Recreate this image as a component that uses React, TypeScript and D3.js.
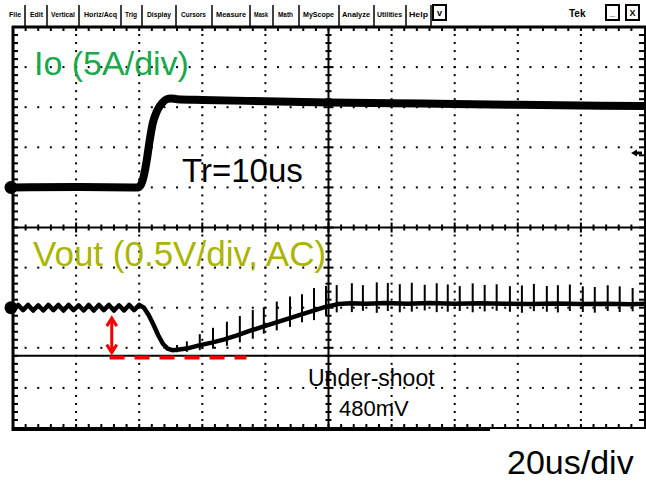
import React, { useEffect, useRef } from "react";
import * as d3 from "d3";

// Io trace: time (us) and current (A), 5 A/div
const ioTime = [0, 20, 39.5, 40.5, 41.5, 42.4, 43.3, 44.3, 45.4, 46.6, 47.7, 48.8, 50, 52, 60, 80, 100, 130, 160, 200];
const ioAmps = [0, 0.05, 0, 0.3, 1.5, 3.4, 5.8, 8.0, 9.3, 10.2, 10.7, 11.0, 11.1, 11.0, 10.9, 10.75, 10.6, 10.45, 10.3, 10.15];

// Vout trace: time (us) and AC voltage (mV), 0.5 V/div
const voutTime = [
  0, 1.6, 3.2, 4.8, 6.4, 8, 9.6, 11.2, 12.8, 14.4, 16, 17.6, 19.2, 20.8, 22.4, 24, 25.6, 27.2, 28.8, 30.4, 32, 33.6, 35.2,
  36.8, 38.4, 40, 41.5, 43, 44.5, 46, 47.5, 49, 50.5, 52, 55, 59, 63, 67, 71, 75, 79, 83, 87, 91, 95, 99, 103, 107, 112,
  118, 125, 132, 140, 148, 156, 164, 172, 180, 188, 196, 200,
];
const voutMv = [
  -35, 35, -30, 35, -35, 30, -35, 35, -30, 35, -35, 35, -30, 30, -35, 35, -35, 35, -30, 35, -35, 30, -35, 35, -30, 35, 0,
  -90, -210, -340, -450, -510, -530, -525, -510, -470, -435, -395, -345, -290, -240, -190, -140, -90, -40, 10, 45, 55,
  50, 60, 50, 58, 48, 55, 50, 45, 52, 46, 50, 44, 48,
];

// switching spikes on Vout
const spikeTime = [
  52.0, 55.1, 59.2, 63.4, 67.8, 71.9, 76.0, 79.5, 83.6, 87.8, 91.6, 95.4, 99.2, 102.6, 107.4, 110.9, 115.3, 118.8, 122.6,
  126.4, 130.5, 134.3, 137.8, 141.6, 145.7, 149.5, 153.3, 157.5, 161.3, 165.1, 169.2, 172.7, 176.5, 180.6, 184.4, 188.5,
  192.3, 196.4,
];
const spikeBase = [
  -525, -510, -470, -431, -385, -333, -277, -234, -183, -130, -82, -35, 12, 42, 55, 51, 56, 59, 53, 51, 56, 55, 50, 49, 53,
  54, 52, 49, 47, 47, 50, 51, 49, 46, 48, 50, 46, 45,
];
const spikeUp = [
  60, 90, 140, 180, 210, 230, 250, 240, 260, 270, 250, 280, 260, 240, 250, 230, 260, 250, 240, 260, 230, 250, 240, 220,
  250, 230, 240, 220, 230, 250, 220, 230, 240, 220, 210, 230, 220, 200,
];
const spikeDown = [
  30, 40, 60, 80, 90, 100, 110, 90, 100, 110, 100, 120, 110, 100, 110, 90, 120, 100, 110, 100, 90, 110, 100, 90, 110, 100,
  90, 100, 110, 90, 100, 110, 90, 100, 110, 90, 100, 90,
];

const triggerAmps = 4.3;
const cursorMv = -600;
const undershootMv = [-130, -560];
const dashMv = -620;
const dashTime = [30.6, 74];

const menuLabels = ["File", "Edit", "Vertical", "Horiz/Acq", "Trig", "Display", "Cursors", "Measure", "Mask", "Math", "MyScope", "Analyze", "Utilities", "Help"];

const W = 646;
const H = 483;
const plot = { left: 13, right: 644, top: 27, bottom: 428 };
const font = "'Liberation Sans', Arial, sans-serif";

const App: React.FC = () => {
  const svgRef = useRef<SVGSVGElement>(null);

  useEffect(() => {
    const svg = d3.select(svgRef.current);
    svg.selectAll("*").remove();

    const x = d3.scaleLinear().domain([0, 200]).range([plot.left, plot.right]);
    const xDiv = d3.scaleLinear().domain([0, 10]).range([plot.left, plot.right]);
    const yDiv = d3.scaleLinear().domain([0, 10]).range([plot.top, plot.bottom]);
    const yIo = d3.scaleLinear().domain([20, -30]).range([plot.top, plot.bottom]);
    const yVout = d3.scaleLinear().domain([3500, -1500]).range([plot.top, plot.bottom]);

    svg.append("rect").attr("width", W).attr("height", H).attr("fill", "#fff");

    // menu bar
    const menuX = [[9, 21], [30, 43], [51, 75], [84, 117], [125, 137], [147, 171], [181, 206], [216, 246], [254, 268], [278, 293], [303, 334], [342, 370], [377, 402], [409, 428]];
    const seps = [25, 47, 79, 121, 142, 176, 212, 250, 273, 299, 339, 374, 406, 431];
    const menu = svg.append("g");
    menu
      .selectAll("text")
      .data(menuLabels)
      .join("text")
      .attr("x", (_, i) => menuX[i][0])
      .attr("y", 17)
      .attr("textLength", (_, i) => menuX[i][1] - menuX[i][0])
      .attr("lengthAdjust", "spacingAndGlyphs")
      .attr("font-family", font)
      .attr("font-size", 8)
      .attr("font-weight", "bold")
      .attr("fill", "#000")
      .text((d) => d);
    menu
      .selectAll("line")
      .data(seps)
      .join("line")
      .attr("x1", (d) => d)
      .attr("x2", (d) => d)
      .attr("y1", 5)
      .attr("y2", 26)
      .attr("stroke", "#000")
      .attr("stroke-width", 1.5);
    const boxes = [[433, 446, "v"], [606, 619, "_"], [626, 639, "X"]] as [number, number, string][];
    boxes.forEach(([a, b, s]) => {
      menu.append("rect").attr("x", a).attr("y", 5).attr("width", b - a).attr("height", 15).attr("fill", "none").attr("stroke", "#000").attr("stroke-width", 2);
      menu.append("text").attr("x", (a + b) / 2).attr("y", 16).attr("text-anchor", "middle").attr("font-family", font).attr("font-size", 9).attr("font-weight", "bold").text(s);
    });
    menu.append("text").attr("x", 569).attr("y", 17).attr("font-family", font).attr("font-size", 10).attr("font-weight", "bold").text("Tek");

    // grid dots
    const dots: [number, number][] = [];
    [1, 2, 3, 4, 6, 7, 8, 9].forEach((d) => {
      d3.range(1, 50).forEach((k) => dots.push([xDiv(k / 5), yDiv(d)]));
      d3.range(1, 50).forEach((k) => dots.push([xDiv(d), yDiv(k / 5)]));
    });
    svg
      .append("g")
      .selectAll("rect")
      .data(dots)
      .join("rect")
      .attr("x", (d) => d[0] - 1)
      .attr("y", (d) => d[1] - 1)
      .attr("width", 2)
      .attr("height", 2)
      .attr("fill", "#000");

    // center axes with ticks
    const axes = svg.append("g").attr("stroke", "#000");
    axes.append("line").attr("x1", plot.left).attr("x2", W).attr("y1", yDiv(5)).attr("y2", yDiv(5)).attr("stroke-width", 2);
    axes.append("line").attr("x1", xDiv(5)).attr("x2", xDiv(5)).attr("y1", plot.top).attr("y2", plot.bottom).attr("stroke-width", 2);
    d3.range(1, 50).forEach((k) => {
      const big = k % 5 === 0 ? 5 : 3;
      axes.append("line").attr("x1", xDiv(k / 5)).attr("x2", xDiv(k / 5)).attr("y1", yDiv(5) - big).attr("y2", yDiv(5) + big).attr("stroke-width", 2);
      axes.append("line").attr("y1", yDiv(k / 5)).attr("y2", yDiv(k / 5)).attr("x1", xDiv(5) - big).attr("x2", xDiv(5) + big).attr("stroke-width", 2);
      // border ticks
      axes.append("line").attr("x1", plot.left).attr("x2", plot.left + 5).attr("y1", yDiv(k / 5)).attr("y2", yDiv(k / 5)).attr("stroke-width", 2);
      axes.append("line").attr("x1", plot.right - 5).attr("x2", plot.right).attr("y1", yDiv(k / 5)).attr("y2", yDiv(k / 5)).attr("stroke-width", 2);
      axes.append("line").attr("x1", xDiv(k / 5)).attr("x2", xDiv(k / 5)).attr("y1", plot.top).attr("y2", plot.top + 4).attr("stroke-width", 2);
      axes.append("line").attr("x1", xDiv(k / 5)).attr("x2", xDiv(k / 5)).attr("y1", plot.bottom - 4).attr("y2", plot.bottom).attr("stroke-width", 2);
    });

    // borders
    axes.append("line").attr("x1", plot.left - 1).attr("x2", W).attr("y1", plot.top).attr("y2", plot.top).attr("stroke-width", 3);
    axes.append("line").attr("x1", plot.left).attr("x2", plot.left).attr("y1", plot.top - 1).attr("y2", plot.bottom + 3).attr("stroke-width", 3);
    axes.append("line").attr("x1", plot.left - 1).attr("x2", 490).attr("y1", plot.bottom + 1).attr("y2", plot.bottom + 1).attr("stroke-width", 4);
    axes.append("line").attr("x1", 490).attr("x2", W).attr("y1", plot.bottom).attr("y2", plot.bottom).attr("stroke-width", 2);
    axes.append("line").attr("x1", plot.right + 1).attr("x2", plot.right + 1).attr("y1", plot.top).attr("y2", plot.bottom).attr("stroke-width", 2);

    // cursor line
    axes.append("line").attr("x1", plot.left).attr("x2", W).attr("y1", yVout(cursorMv)).attr("y2", yVout(cursorMv)).attr("stroke-width", 2);

    // traces
    svg.append("clipPath").attr("id", "screen").append("rect").attr("x", plot.left).attr("y", plot.top).attr("width", W - plot.left).attr("height", plot.bottom - plot.top);
    const traces = svg.append("g").attr("clip-path", "url(#screen)");

    const ioLine = d3
      .line<number>()
      .x((_, i) => x(ioTime[i]))
      .y((d) => yIo(d))
      .curve(d3.curveMonotoneX);
    traces.append("path").datum(ioAmps).attr("d", ioLine).attr("fill", "none").attr("stroke", "#000").attr("stroke-width", 8).attr("stroke-linejoin", "round");

    const voutLine = d3
      .line<number>()
      .x((_, i) => x(voutTime[i]))
      .y((d) => yVout(d));
    traces.append("path").datum(voutMv).attr("d", voutLine).attr("fill", "none").attr("stroke", "#000").attr("stroke-width", 4.5).attr("stroke-linejoin", "round");

    traces
      .selectAll("line.spike")
      .data(spikeTime)
      .join("line")
      .attr("class", "spike")
      .attr("x1", (d) => x(d))
      .attr("x2", (d) => x(d))
      .attr("y1", (_, i) => yVout(spikeBase[i] + spikeUp[i]))
      .attr("y2", (_, i) => yVout(spikeBase[i] - spikeDown[i]))
      .attr("stroke", "#000")
      .attr("stroke-width", 2);

    // ground markers and trigger marker
    svg.append("circle").attr("cx", plot.left - 2).attr("cy", yIo(0)).attr("r", 6.5).attr("fill", "#000");
    svg.append("circle").attr("cx", plot.left - 2).attr("cy", yVout(0)).attr("r", 6.5).attr("fill", "#000");
    const ty = yIo(triggerAmps);
    svg
      .append("path")
      .attr("d", `M631,${ty} L637,${ty - 3.5} L637,${ty - 1.5} L642,${ty - 1.5} L642,${ty + 1.5} L637,${ty + 1.5} L637,${ty + 3.5} Z`)
      .attr("fill", "#000");

    // undershoot annotation
    const red = "#f00000";
    const ax = x(31.3);
    const a0 = yVout(undershootMv[0]);
    const a1 = yVout(undershootMv[1]);
    svg.append("line").attr("x1", ax).attr("x2", ax).attr("y1", a0 + 1).attr("y2", a1 - 1).attr("stroke", red).attr("stroke-width", 3);
    svg.append("path").attr("d", `M${ax - 5},${a0 + 8} L${ax},${a0} L${ax + 5},${a0 + 8}`).attr("fill", "none").attr("stroke", red).attr("stroke-width", 3);
    svg.append("path").attr("d", `M${ax - 5},${a1 - 8} L${ax},${a1} L${ax + 5},${a1 - 8}`).attr("fill", "none").attr("stroke", red).attr("stroke-width", 3);
    svg
      .append("line")
      .attr("x1", x(dashTime[0]))
      .attr("x2", x(dashTime[1]))
      .attr("y1", yVout(dashMv))
      .attr("y2", yVout(dashMv))
      .attr("stroke", red)
      .attr("stroke-width", 4)
      .attr("stroke-dasharray", "15 10");

    // labels
    const label = (t: string, lx: number, ly: number, size: number, color: string) =>
      svg.append("text").attr("x", lx).attr("y", ly).attr("font-family", font).attr("font-size", size).attr("fill", color).text(t);
    label("Io (5A/div)", 34, 75, 34, "#19a84c");
    label("Tr=10us", 182, 182, 33, "#000");
    label("Vout (0.5V/div, AC)", 33, 266, 35, "#aab500");
    label("Under-shoot", 308, 386, 23, "#000");
    label("480mV", 339, 416, 22, "#000");
    label("20us/div", 507, 474, 34, "#000");

    return () => {
      svg.selectAll("*").remove();
    };
  }, []);

  return <svg ref={svgRef} width={W} height={H} style={{ position: "absolute", left: 0, top: 0 }} />;
};

export default App;
